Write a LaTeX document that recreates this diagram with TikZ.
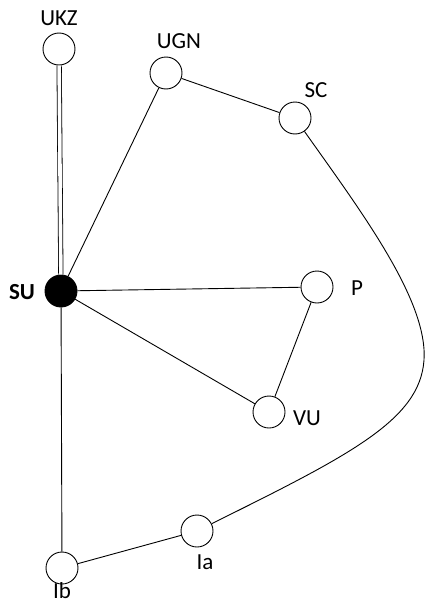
\documentclass[tikz,border=0pt]{standalone}
\usepackage{fontspec}
\setmainfont{Carlito}

\begin{document}
\begin{tikzpicture}[x=1pt,y=-1pt,
    vertex/.style={circle,draw,line width=0.9pt,minimum size=32pt,inner sep=0pt},
    hub/.style={vertex,fill=black},
    tag/.style={font=\fontsize{23}{26}\selectfont,inner sep=0pt},
    link/.style={line width=0.9pt}]

        % ============================================
        % FRAME
        % ============================================

        \useasboundingbox (0,0) rectangle (425,605);

        % ============================================
        % VERTICES
        % ============================================

        \node[hub]    (SU)  at (61,291)  {};
        \node[vertex] (UKZ) at (59,49)   {};
        \node[vertex] (UGN) at (166,73)  {};
        \node[vertex] (SC)  at (295,118) {};
        \node[vertex] (P)   at (317,287) {};
        \node[vertex] (VU)  at (269,412) {};
        \node[vertex] (Ia)  at (197,531) {};
        \node[vertex] (Ib)  at (62,568)  {};

        % Labels
        \node[tag,font=\fontsize{23}{26}\selectfont\bfseries] (lSU) at (22,292) {SU};
        \node[tag] (lUKZ) at (59,18)   {UKZ};
        \node[tag] (lUGN) at (179,41)  {UGN};
        \node[tag] (lSC)  at (316,90)  {SC};
        \node[tag] (lP)   at (357,288) {P};
        \node[tag] (lVU)  at (307,418) {VU};
        \node[tag] (lIa)  at (205,562) {Ia};
        \node[tag] (lIb)  at (62,591)  {Ib};

        % ============================================
        % EDGES
        % ============================================

        \draw[line width=0.8pt,double,double distance=3.6pt] (SU) -- (UKZ);
        \draw[link] (SU) -- (UGN);
        \draw[link] (SU) -- (P);
        \draw[link] (SU) -- (VU);
        \draw[link] (SU) -- (Ib);
        \draw[link] (UGN) -- (SC);
        \draw[link] (P) -- (VU);
        \draw[link] (Ib) -- (Ia);

        % Long arc from SC round to Ia
        \coordinate (bend) at (424,360);
        \draw[link] (SC) .. controls (360,210) and (428,300) .. (bend)
                         .. controls (420,420) and (350,455) .. (Ia);

\end{tikzpicture}
\end{document}
